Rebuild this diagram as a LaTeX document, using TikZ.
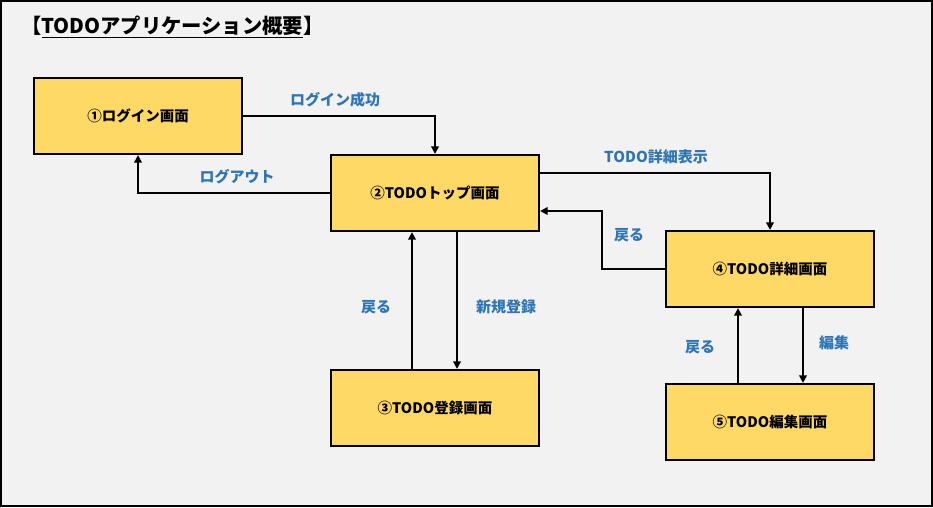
\documentclass[tikz,border=0pt]{standalone}
\usepackage{fontspec}
\setmainfont{Noto Sans CJK JP}
\usetikzlibrary{arrows.meta}
\definecolor{bgc}{HTML}{F2F2F2}
\definecolor{boxc}{HTML}{FFD966}
\definecolor{lblc}{HTML}{2E75B6}
\begin{document}
\begin{tikzpicture}[x=1pt,y=-1pt,
  screen/.style={draw=black,line width=2.2pt,fill=boxc,minimum width=208pt,minimum height=76pt,inner sep=0pt,font=\fontsize{14.5}{17}\selectfont\bfseries},
  conn/.style={draw=black,line width=2.2pt,-{Triangle[length=7.5pt,width=7.5pt]}},
  lbl/.style={text=lblc,font=\fontsize{15}{18}\selectfont\bfseries,inner sep=0pt}]
\useasboundingbox (0,0) rectangle (933,507);
\draw[line width=2.2pt,fill=bgc] (1,1) rectangle (932,506);
\node[anchor=west,inner sep=0pt,font=\fontsize{20.3}{24}\selectfont\bfseries] (title) at (21,27) {【\underline{TODOアプリケーション概要}】};
\node[screen] (b1) at (138,116) {①ログイン画面};
\node[screen] (b2) at (435,193) {②TODOトップ画面};
\node[screen] (b3) at (435,408) {③TODO登録画面};
\node[screen] (b4) at (770,269) {④TODO詳細画面};
\node[screen] (b5) at (770,422) {⑤TODO編集画面};
\draw[conn] (b1.east) -| (b2.north);
\draw[conn] (b2.west) -| (b1.south);
\draw[conn] ([yshift=20pt]b2.east) -| (b4.north);
\draw[conn] (b4.west) -- ++(-63,0) |- ([yshift=-18pt]b2.east);
\draw[conn] ([xshift=-23pt]b3.north) -- ([xshift=-23pt]b2.south);
\draw[conn] ([xshift=22pt]b2.south) -- ([xshift=22pt]b3.north);
\draw[conn] ([xshift=-32pt]b5.north) -- ([xshift=-32pt]b4.south);
\draw[conn] ([xshift=33pt]b4.south) -- ([xshift=33pt]b5.north);
\node[lbl] (l1) at (335,100) {ログイン成功};
\node[lbl] (l2) at (237,177) {ログアウト};
\node[lbl] (l3) at (656,157) {TODO詳細表示};
\node[lbl] (l4) at (629,235) {戻る};
\node[lbl] (l5) at (376,307) {戻る};
\node[lbl] (l6) at (506,307) {新規登録};
\node[lbl] (l7) at (700,347) {戻る};
\node[lbl] (l8) at (834,343) {編集};
\end{tikzpicture}
\end{document}
